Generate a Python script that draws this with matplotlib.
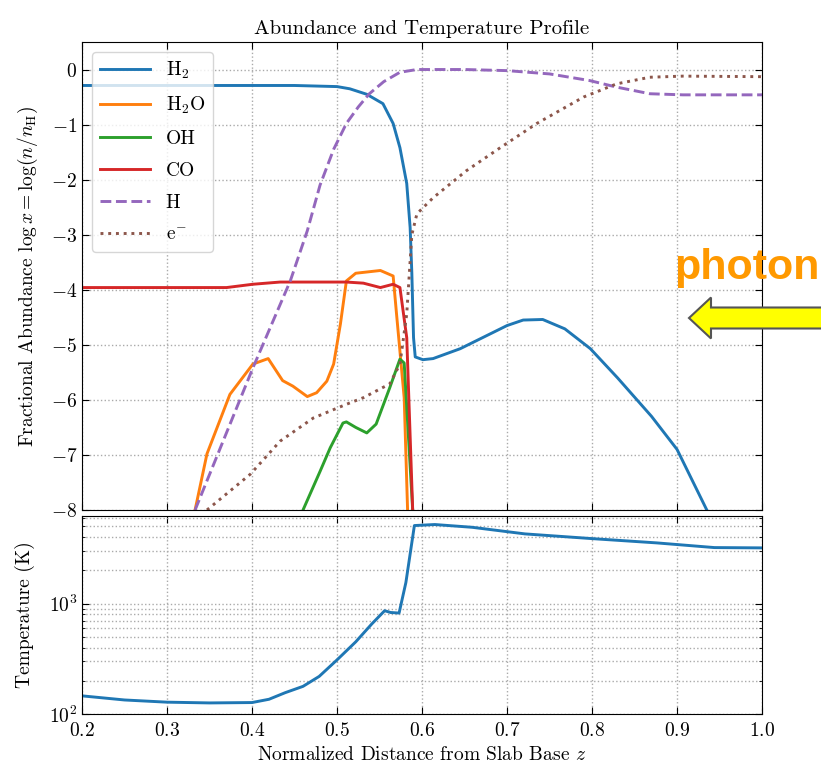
import numpy as np
import matplotlib
matplotlib.use("Agg")
import matplotlib.pyplot as plt
from matplotlib.patches import FancyArrow

plt.rcParams["font.family"] = "serif"
plt.rcParams["font.serif"] = ["cmr10"]
plt.rcParams["mathtext.fontset"] = "cm"
plt.rcParams["axes.formatter.use_mathtext"] = True
plt.rcParams["font.size"] = 14

# ---------- DATA ----------
h2_z = [0.20, 0.30, 0.40, 0.45, 0.50, 0.515, 0.535, 0.554, 0.566, 0.574, 0.582, 0.586,
        0.588, 0.590, 0.592, 0.601, 0.613, 0.645, 0.70, 0.719, 0.742, 0.768, 0.798,
        0.83, 0.87, 0.90, 0.935]
h2_y = [-0.29, -0.29, -0.29, -0.29, -0.31, -0.35, -0.45, -0.62, -0.98, -1.42, -2.07, -2.87,
        -3.70, -4.87, -5.22, -5.27, -5.25, -5.07, -4.65, -4.55, -4.54, -4.71, -5.07,
        -5.60, -6.30, -6.90, -8.00]

h2o_z = [0.333, 0.347, 0.374, 0.401, 0.419, 0.436, 0.448, 0.465, 0.476, 0.488, 0.496,
         0.504, 0.511, 0.522, 0.551, 0.566, 0.570, 0.579, 0.583]
h2o_y = [-8.00, -6.98, -5.90, -5.35, -5.25, -5.65, -5.75, -5.94, -5.87, -5.66, -5.35,
         -4.62, -3.84, -3.70, -3.65, -3.75, -4.44, -5.96, -8.00]

oh_z = [0.460, 0.480, 0.492, 0.507, 0.511, 0.522, 0.535, 0.546, 0.562, 0.574, 0.579, 0.589]
oh_y = [-8.00, -7.30, -6.87, -6.42, -6.40, -6.50, -6.60, -6.44, -5.78, -5.26, -5.33, -8.00]

co_z = [0.20, 0.30, 0.37, 0.401, 0.433, 0.511, 0.531, 0.551, 0.566, 0.574, 0.582, 0.589]
co_y = [-3.96, -3.96, -3.96, -3.90, -3.86, -3.86, -3.88, -3.96, -3.90, -3.96, -4.87, -8.00]

h_z = [0.333, 0.401, 0.445, 0.465, 0.480, 0.496, 0.511, 0.525, 0.538, 0.555, 0.574,
       0.594, 0.65, 0.70, 0.75, 0.797, 0.829, 0.868, 0.907, 1.00]
h_y = [-8.00, -5.42, -3.84, -2.93, -2.10, -1.45, -0.98, -0.68, -0.44, -0.22, -0.05,
       0.00, 0.00, -0.02, -0.08, -0.20, -0.32, -0.44, -0.46, -0.46]

e_z = [0.347, 0.398, 0.433, 0.472, 0.511, 0.531, 0.562, 0.574, 0.582, 0.588, 0.594,
       0.613, 0.652, 0.692, 0.735, 0.79, 0.829, 0.868, 0.907, 1.00]
e_y = [-8.00, -7.35, -6.75, -6.33, -6.08, -5.96, -5.71, -5.35, -4.44, -3.00, -2.62,
       -2.33, -1.84, -1.42, -0.98, -0.50, -0.26, -0.14, -0.12, -0.13]

t_z = [0.20, 0.25, 0.30, 0.35, 0.40, 0.42, 0.439, 0.46, 0.479, 0.50, 0.522, 0.541,
       0.556, 0.563, 0.573, 0.581, 0.591, 0.615, 0.659, 0.721, 0.80, 0.876, 0.944, 1.00]
t_k = [146, 134, 128, 126, 127, 136, 156, 178, 219, 309, 450, 655,
       861, 830, 820, 1550, 5080, 5190, 4900, 4270, 3870, 3540, 3210, 3190]

species = [
    ("H$_2$", h2_z, h2_y, "#1f77b4", "-"),
    ("H$_2$O", h2o_z, h2o_y, "#ff7f0e", "-"),
    ("OH", oh_z, oh_y, "#2ca02c", "-"),
    ("CO", co_z, co_y, "#d62728", "-"),
    ("H", h_z, h_y, "#9467bd", "--"),
    ("e$^{-}$", e_z, e_y, "#8c564b", ":"),
]

# ---------- FIGURE ----------
fig = plt.figure(figsize=(8.21, 7.69), dpi=100)
ax1 = fig.add_axes([0.0999, 0.3368, 0.8283, 0.6086])
ax2 = fig.add_axes([0.0999, 0.0715, 0.8283, 0.2575], sharex=ax1)

for label, z, y, color, ls in species:
    ax1.plot(z, y, color=color, ls=ls, lw=2.1, label=label)

ax1.set_xlim(0.2, 1.0)
ax1.set_ylim(-8, 0.5)
ax1.set_yticks(np.arange(-8, 1, 1))
ax1.set_ylabel(r"Fractional Abundance $\log x = \log(n/n_{\rm H})$", labelpad=8)
ax1.set_title("Abundance and Temperature Profile", fontsize=15)
ax1.grid(True, ls=":", color="#aaaaaa", lw=1)
ax1.tick_params(direction="in", top=True, right=True, labelbottom=False, length=5)
ax1.legend(loc="upper left", fontsize=14, handlelength=2.6, labelspacing=0.72)

ax2.plot(t_z, t_k, color="#1f77b4", lw=2.1)
ax2.set_yscale("log")
ax2.set_ylim(100, 6200)
ax2.set_xticks(np.arange(0.2, 1.01, 0.1))
ax2.set_ylabel("Temperature (K)", labelpad=10)
ax2.set_xlabel("Normalized Distance from Slab Base $z$")
ax2.grid(True, which="both", ls=":", color="#aaaaaa", lw=1)
ax2.tick_params(which="both", direction="in", top=True, right=True)
ax2.tick_params(which="major", length=5)
ax2.tick_params(axis="x", pad=6)

# photon annotation
fig.text(0.998, 0.652, "photon", color="#ff9900", fontsize=31, fontweight="bold",
         family="Liberation Sans", ha="right", va="center")
arrow = FancyArrow(8.30, 4.51, -1.41, 0, width=0.21, head_width=0.41, head_length=0.22,
                   length_includes_head=True, facecolor="#ffff00", edgecolor="#555555",
                   lw=1.5, transform=fig.dpi_scale_trans, clip_on=False)
fig.patches.append(arrow)

fig.savefig("out.png", dpi=100)
